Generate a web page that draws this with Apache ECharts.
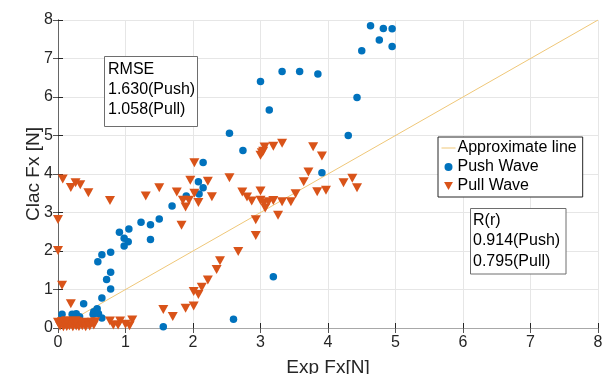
<!DOCTYPE html>
<html>
<head>
<meta charset="utf-8">
<script src="https://cdn.jsdelivr.net/npm/echarts@6/dist/echarts.min.js"></script>
<style>
  html, body { margin: 0; padding: 0; background: #fff; }
  #chart { width: 608px; height: 374px; }
</style>
</head>
<body>
<div id="chart"></div>
<script>
// ---- data ----
const pushX = [0.06, 0.21, 0.27, 0.32, 0.38, 0.52, 0.53, 0.58, 0.60, 0.65, 0.65, 0.78, 0.72, 0.78, 0.59, 0.65, 0.78,
  0.98, 1.04, 0.98, 0.91, 1.05, 1.23, 1.37, 1.37, 1.50, 1.69, 1.90, 2.09, 2.15, 2.08, 2.15, 1.56, 2.60, 3.19,
  2.54, 2.74, 3.00, 3.13, 3.32, 3.58, 3.85, 3.91, 4.30, 4.43, 4.50, 4.63, 4.76, 4.82, 4.95, 4.95]
const pushY = [0.36, 0.36, 0.37, 0.29, 0.63, 0.36, 0.42, 0.50, 0.37, 0.26, 0.78, 1.01, 1.26, 1.45, 1.72, 1.90, 1.97,
  2.13, 2.24, 2.33, 2.49, 2.57, 2.75, 2.30, 2.68, 2.83, 3.17, 3.43, 3.48, 3.64, 3.80, 4.30, 0.03, 0.23, 1.33,
  5.06, 4.61, 6.40, 5.66, 6.66, 6.66, 6.60, 4.03, 5.00, 5.99, 7.20, 7.85, 7.48, 7.78, 7.77, 7.31]

const pullX = [
  // left edge and upper-left band
  0.00, 0.00, 0.06, 0.19, 0.07, 0.19, 0.26, 0.33, 0.45, 0.77, 1.30, 1.50, 1.76, 1.83, 1.85, 1.94, 1.89, 2.02,
  2.08, 1.96, 2.02, 2.22, 2.28, 2.54,
  // middle cluster
  2.73, 2.80, 2.87, 3.00, 3.00, 3.05, 3.07, 3.12, 3.19, 3.32, 3.45, 3.52, 2.93, 2.93, 3.26,
  // upper cluster
  3.00, 3.02, 3.04, 3.06, 3.19, 3.32, 3.78, 3.91, 3.71, 3.64, 3.84, 3.97, 4.23, 4.36, 4.43,
  // rising diagonal
  1.56, 1.70, 1.89, 2.01, 2.01, 2.08, 2.13, 2.22, 2.35, 2.40, 2.67,
  // bottom, around 1
  0.77, 0.82, 0.89, 0.92, 1.00, 1.06, 1.10,
  // bottom-left pile
  0.00, 0.03, 0.06, 0.08, 0.10, 0.13, 0.15, 0.17, 0.20, 0.22, 0.24, 0.27, 0.29, 0.31, 0.34, 0.36, 0.39, 0.41,
  0.44, 0.47, 0.50, 0.53, 0.55, 0.12, 0.26
]
const pullY = [
  2.82, 2.01, 1.11, 0.63, 3.87, 3.65, 3.77, 3.72, 3.51, 3.31, 3.43, 3.64, 3.53, 2.67, 3.32, 3.32, 3.14, 3.50,
  3.26, 3.84, 4.29, 3.81, 3.41, 3.90,
  3.53, 3.40, 3.30, 3.56, 3.32, 3.24, 3.12, 3.28, 3.31, 3.28, 3.28, 3.49, 2.81, 2.40, 2.93,
  4.49, 4.55, 4.59, 4.70, 4.72, 4.80, 4.71, 4.47, 4.05, 3.80, 3.54, 3.58, 3.77, 3.89, 3.64,
  0.48, 0.30, 0.51, 0.57, 0.95, 0.87, 1.06, 1.25, 1.52, 1.75, 1.99,
  0.18, 0.08, 0.08, 0.18, 0.10, 0.06, 0.21,
  0.15, 0.05, 0.17, 0.03, 0.14, 0.04, 0.17, 0.06, 0.15, 0.03, 0.12, 0.05, 0.16, 0.04, 0.14, 0.06, 0.15, 0.03,
  0.13, 0.05, 0.15, 0.08, 0.16, 0.19, 0.19
]

const lineX = [0, 8]
const lineY = [0, 8]

const axisMin = 0
const axisMax = 8
const tickStep = 1

const rmseLines = ['RMSE', '1.630(Push)', '1.058(Pull)']
const rLines = ['R(r)', '0.914(Push)', '0.795(Pull)']

// ---- chart ----
const FONT = '"Liberation Sans", Arial, sans-serif'
const LINE_COLOR = '#efc778'
const DOWN_TRIANGLE = 'path://M0,0 L10,0 L5,9 Z'
const zip = (xs, ys) => xs.map((x, i) => [x, ys[i]])

const chart = echarts.init(document.getElementById('chart'), null, { renderer: 'canvas' })

const baseAxis = {
  type: 'value',
  min: axisMin,
  max: axisMax,
  interval: tickStep
}

const option = {
  animation: false,
  backgroundColor: '#fff',
  textStyle: { fontFamily: FONT },
  grid: { left: 58, right: 10, top: 20, bottom: 46, containLabel: false, outerBoundsMode: 'none' },
  xAxis: [
    {
      ...baseAxis,
      position: 'bottom',
      name: 'Exp Fx[N]',
      nameLocation: 'middle',
      nameGap: 30,
      nameTextStyle: { fontSize: 19, color: '#262626', fontFamily: FONT },
      axisLine: { show: true, lineStyle: { color: '#262626', width: 1 } },
      axisTick: { show: true, inside: true, length: 5, lineStyle: { color: '#262626' } },
      axisLabel: { fontSize: 16, color: '#262626', margin: 7, fontFamily: FONT },
      splitLine: { show: true, lineStyle: { color: '#e6e6e6', width: 1 } }
    },
    {
      ...baseAxis,
      position: 'top',
      axisLine: { show: true, lineStyle: { color: '#a8a8a8', width: 1 } },
      axisTick: { show: true, inside: true, length: 5, lineStyle: { color: '#555' } },
      axisLabel: { show: false },
      splitLine: { show: false }
    }
  ],
  yAxis: [
    {
      ...baseAxis,
      position: 'left',
      name: 'Clac Fx [N]',
      nameLocation: 'middle',
      nameGap: 15,
      nameMoveOverlap: false,
      nameRotate: 90,
      nameTextStyle: { fontSize: 19, color: '#262626', fontFamily: FONT },
      axisLine: { show: true, lineStyle: { color: '#595959', width: 1 } },
      axisTick: { show: true, inside: true, length: 5, lineStyle: { color: '#262626' } },
      axisLabel: { fontSize: 16, color: '#262626', margin: 5, fontFamily: FONT },
      splitLine: { show: true, lineStyle: { color: '#e6e6e6', width: 1 } }
    },
    {
      ...baseAxis,
      position: 'right',
      axisLine: { show: true, lineStyle: { color: '#666', width: 1 } },
      axisTick: { show: true, inside: true, length: 5, lineStyle: { color: '#555' } },
      axisLabel: { show: false },
      splitLine: { show: false }
    }
  ],
  legend: {
    orient: 'vertical',
    left: 438,
    top: 137,
    backgroundColor: '#fff',
    borderColor: '#262626',
    borderWidth: 1,
    borderRadius: 0,
    padding: [3, 6, 3, 3],
    itemGap: 3,
    itemWidth: 14,
    itemHeight: 8,
    textStyle: { fontSize: 16, color: '#000', fontFamily: FONT, lineHeight: 16, padding: [0, 0, 0, -3] },
    data: [
      { name: 'Approximate line', itemStyle: { opacity: 0 }, lineStyle: { color: LINE_COLOR, width: 1 } },
      { name: 'Push Wave', icon: 'circle' },
      { name: 'Pull Wave', icon: DOWN_TRIANGLE }
    ]
  },
  series: [
    {
      name: 'Approximate line',
      type: 'line',
      data: zip(lineX, lineY),
      showSymbol: false,
      symbol: 'none',
      lineStyle: { color: LINE_COLOR, width: 1 },
      itemStyle: { color: LINE_COLOR },
      z: 2
    },
    {
      name: 'Push Wave',
      type: 'scatter',
      data: zip(pushX, pushY),
      symbol: 'circle',
      symbolSize: 7.5,
      itemStyle: { color: '#0072BD', opacity: 1 },
      z: 3
    },
    {
      name: 'Pull Wave',
      type: 'scatter',
      data: zip(pullX, pullY),
      symbol: 'triangle',
      symbolRotate: 180,
      symbolSize: [10, 9],
      itemStyle: { color: '#D95319', opacity: 1 },
      z: 4
    }
  ],
  graphic: [
    {
      type: 'rect',
      shape: { x: 104.5, y: 56.5, width: 93, height: 70 },
      style: { fill: '#fff', stroke: '#6e6e6e', lineWidth: 1 },
      z: 10
    },
    {
      type: 'text',
      x: 108,
      y: 60,
      style: { text: rmseLines.join('\n'), font: '16px ' + FONT, lineHeight: 20, fill: '#000' },
      z: 11
    },
    {
      type: 'rect',
      shape: { x: 470.5, y: 208.5, width: 95.5, height: 65.5 },
      style: { fill: '#fff', stroke: '#6e6e6e', lineWidth: 1 },
      z: 10
    },
    {
      type: 'text',
      x: 473,
      y: 210,
      style: { text: rLines.join('\n'), font: '16px ' + FONT, lineHeight: 20.5, fill: '#000' },
      z: 11
    }
  ]
}

chart.setOption(option)
</script>
</body>
</html>
